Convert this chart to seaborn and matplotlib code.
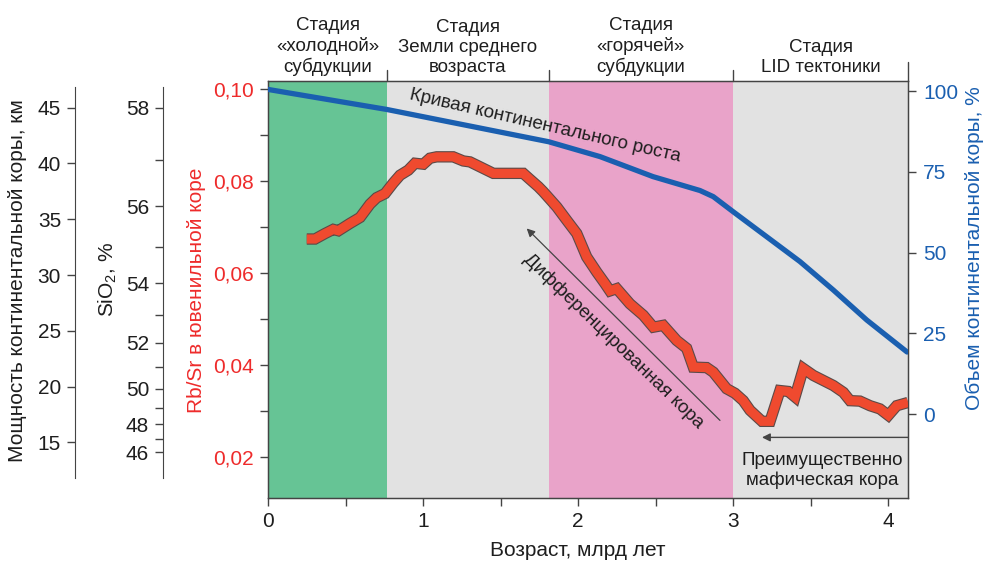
import numpy as np
import pandas as pd
import matplotlib
matplotlib.use("Agg")
import matplotlib.pyplot as plt
import matplotlib.patheffects as pe
from matplotlib.ticker import FixedLocator, FuncFormatter
import seaborn as sns

# ---------------- data ----------------
# Rb/Sr of juvenile crust vs age (Ga)
age_rbsr = [0.250, 0.303, 0.368, 0.421, 0.454, 0.529, 0.594, 0.658, 0.701, 0.755,
            0.808, 0.852, 0.905, 0.948, 1.002, 1.045, 1.088, 1.195, 1.260, 1.303,
            1.454, 1.647, 1.690, 1.744, 1.776, 1.863, 1.927, 1.992, 2.056, 2.121,
            2.174, 2.206, 2.250, 2.335, 2.421, 2.486, 2.550, 2.637, 2.701, 2.744,
            2.830, 2.873, 2.959, 3.013, 3.066, 3.110, 3.187, 3.239, 3.303, 3.357,
            3.400, 3.454, 3.518, 3.647, 3.712, 3.755, 3.819, 3.884, 3.948, 4.002,
            4.056, 4.129]
rbsr = [0.0674, 0.0674, 0.0686, 0.0695, 0.0692, 0.0708, 0.0721, 0.0750, 0.0764, 0.0773,
        0.0796, 0.0813, 0.0824, 0.0839, 0.0837, 0.0850, 0.0853, 0.0853, 0.0844, 0.0842,
        0.0817, 0.0817, 0.0804, 0.0788, 0.0777, 0.0744, 0.0715, 0.0686, 0.0635, 0.0602,
        0.0577, 0.0561, 0.0566, 0.0533, 0.0508, 0.0482, 0.0486, 0.0453, 0.0436, 0.0395,
        0.0394, 0.0384, 0.0348, 0.0338, 0.0322, 0.0301, 0.0277, 0.0277, 0.0344, 0.0342,
        0.0330, 0.0392, 0.0377, 0.0355, 0.0340, 0.0322, 0.0321, 0.0311, 0.0304, 0.0290,
        0.0311, 0.0318]

# continental growth curve, % of present-day volume
age_growth = [0.0, 0.766, 1.811, 2.142, 2.484, 2.787, 2.873, 3.002, 3.217, 3.432,
              3.647, 3.863, 4.123]
growth = [100.5, 94.3, 84.3, 79.7, 73.5, 69.2, 67.3, 62.6, 54.9, 47.2,
          38.4, 29.1, 19.2]

# tectonic stages
stage_edges = [0.0, 0.77, 1.81, 3.0, 4.13]
stage_colors = ["#66c495", "#e2e2e2", "#e9a3c9", "#e2e2e2"]
stage_names = ["Стадия\n«холодной»\nсубдукции",
               "Стадия\nЗемли среднего\nвозраста",
               "Стадия\n«горячей»\nсубдукции",
               "Стадия\nLID тектоники"]

x_major = [0, 1, 2, 3, 4]
x_minor = [0.5, 1.5, 2.5, 3.5]
rb_major = [0.02, 0.04, 0.06, 0.08, 0.10]
rb_minor = [0.03, 0.05, 0.07, 0.09]
growth_ticks = [0, 25, 50, 75, 100]
sio2_major = [46, 48, 50, 52, 54, 56, 58]
sio2_minor = [47, 49, 51, 53, 55, 57]
thick_ticks = [15, 20, 25, 30, 35, 40, 45]

# calibration of the auxiliary scales against Rb/Sr
sio2_ref = (58.0, 46.0)
sio2_rb_ref = (0.09599, 0.02096)
thick_ref = (45.0, 15.0)
thick_rb_ref = (0.09599, 0.02314)

# ---------------- style ----------------
sns.set_style("ticks")
plt.rcParams["font.family"] = ["Liberation Sans", "DejaVu Sans"]
RED = "#ee2b2b"
BLUE = "#1a5fb0"
LINE_RED = "#ef4a2f"
INK = "#1e1e1e"
SPINE = "#444444"
FS_TICK = 15
FS_LAB = 15
FS_TXT = 13.5

W, H = 989, 564
fig = plt.figure(figsize=(W / 100, H / 100), dpi=100)
ax_l, ax_r, ax_t, ax_b = 268, 908, 80.7, 498
ax = fig.add_axes([ax_l / W, 1 - ax_b / H, (ax_r - ax_l) / W, (ax_b - ax_t) / H])

ax.set_xlim(0, 4.129)
ax.set_ylim(0.0110, 0.10188)

# stage bands
for i, col in enumerate(stage_colors):
    ax.axvspan(stage_edges[i], stage_edges[i + 1], color=col, lw=0, zorder=0)

# Rb/Sr curve
df_rb = pd.DataFrame({"age": age_rbsr, "rbsr": rbsr})
sns.lineplot(data=df_rb, x="age", y="rbsr", ax=ax, color=LINE_RED, lw=6.6,
             solid_joinstyle="miter", solid_capstyle="butt", zorder=3,
             path_effects=[pe.Stroke(linewidth=8.2, foreground="#5b4a48"), pe.Normal()])

# axes styling
for s in ["left", "bottom", "top", "right"]:
    ax.spines[s].set_color(SPINE)
    ax.spines[s].set_linewidth(1.0)
ax.xaxis.set_major_locator(FixedLocator(x_major))
ax.xaxis.set_minor_locator(FixedLocator(x_minor))
ax.yaxis.set_major_locator(FixedLocator(rb_major))
ax.yaxis.set_minor_locator(FixedLocator(rb_minor))
ax.yaxis.set_major_formatter(FuncFormatter(lambda v, p: f"{v:.2f}".replace(".", ",")))
ax.tick_params(axis="both", which="both", direction="out", length=6, width=1,
               color=SPINE)
ax.tick_params(axis="x", labelsize=FS_TICK, labelcolor=INK, pad=4)
ax.tick_params(axis="y", labelsize=FS_TICK, labelcolor=RED, pad=4)

ax.set_xlabel("Возраст, млрд лет", fontsize=FS_LAB, color=INK)
ax.xaxis.set_label_coords(578 / W, 1 - 551 / H, transform=fig.transFigure)
ax.xaxis.label.set_va("center")
ax.set_ylabel("Rb/Sr в ювенильной коре", fontsize=FS_LAB, color=RED)
ax.yaxis.set_label_coords(197 / W, 1 - 290 / H, transform=fig.transFigure)
ax.yaxis.label.set_va("center")

# continental growth on the right axis
axr = ax.twinx()
axr.set_ylim(-26.0, 103.2)
df_g = pd.DataFrame({"age": age_growth, "growth": growth})
sns.lineplot(data=df_g, x="age", y="growth", ax=axr, color=BLUE, lw=3.8, zorder=3)
axr.set_xlim(0, 4.129)
axr.yaxis.set_major_locator(FixedLocator(growth_ticks))
axr.tick_params(axis="y", direction="out", length=6, width=1, color=SPINE,
                labelsize=FS_TICK, labelcolor=BLUE, pad=5)
for s in ["left", "bottom", "top", "right"]:
    axr.spines[s].set_color(SPINE)
axr.set_ylabel("Объем континентальной коры, %", fontsize=FS_LAB, color=BLUE)
axr.yaxis.set_label_coords(975 / W, 1 - 248 / H, transform=fig.transFigure)
axr.yaxis.label.set_va("center")
axr.yaxis.label.set_rotation(90)
axr.set_xlabel("")


# SiO2 scale (logarithmic in Rb/Sr)
b_si = (sio2_ref[0] - sio2_ref[1]) / np.log(sio2_rb_ref[0] / sio2_rb_ref[1])
a_si = sio2_ref[0] - b_si * np.log(sio2_rb_ref[0])


def rb_to_sio2(r):
    return a_si + b_si * np.log(np.clip(r, 1e-6, None))


def sio2_to_rb(s):
    return np.exp((np.asarray(s) - a_si) / b_si)


# crustal thickness scale (linear in Rb/Sr)
b_th = (thick_ref[0] - thick_ref[1]) / (thick_rb_ref[0] - thick_rb_ref[1])
a_th = thick_ref[0] - b_th * thick_rb_ref[0]


def rb_to_thick(r):
    return a_th + b_th * np.asarray(r)


def thick_to_rb(t):
    return (np.asarray(t) - a_th) / b_th


rb_span = (0.01546, 0.1005)

sec_si = ax.secondary_yaxis((163 - ax_l) / (ax_r - ax_l), functions=(rb_to_sio2, sio2_to_rb))
sec_si.yaxis.set_major_locator(FixedLocator(sio2_major))
sec_si.yaxis.set_minor_locator(FixedLocator(sio2_minor))
sec_si.spines["left"].set_bounds(rb_to_sio2(rb_span[0]), rb_to_sio2(rb_span[1]))
sec_si.spines["left"].set_color(SPINE)
sec_si.tick_params(axis="y", which="both", direction="out", length=6, width=1,
                   color=SPINE, labelsize=FS_TICK, labelcolor=INK, pad=4)
sec_si.set_ylabel(r"$\mathregular{SiO_2}$, %", fontsize=FS_LAB, color=INK)
sec_si.yaxis.set_label_coords(108 / W, 1 - 279 / H, transform=fig.transFigure)
sec_si.yaxis.label.set_va("center")

sec_th = ax.secondary_yaxis((75 - ax_l) / (ax_r - ax_l), functions=(rb_to_thick, thick_to_rb))
sec_th.yaxis.set_major_locator(FixedLocator(thick_ticks))
sec_th.yaxis.set_minor_locator(FixedLocator([]))
sec_th.spines["left"].set_bounds(rb_to_thick(rb_span[0]), rb_to_thick(rb_span[1]))
sec_th.spines["left"].set_color(SPINE)
sec_th.tick_params(axis="y", which="both", direction="out", length=6, width=1,
                   color=SPINE, labelsize=FS_TICK, labelcolor=INK, pad=4)
sec_th.set_ylabel("Мощность континентальной коры, км", fontsize=FS_LAB, color=INK)
sec_th.yaxis.set_label_coords(18 / W, 1 - 281 / H, transform=fig.transFigure)
sec_th.yaxis.label.set_va("center")

# stage header
hdr = ax.get_xaxis_transform()
for i, name in enumerate(stage_names):
    xc = 0.5 * (stage_edges[i] + stage_edges[i + 1])
    ax.text(xc, 1.012, name, transform=hdr, ha="center", va="bottom",
            fontsize=FS_TXT, color=INK, linespacing=1.2)
for e in stage_edges[1:-1]:
    ax.plot([e, e], [1.0, 1.026], transform=hdr, color=SPINE, lw=1.0, clip_on=False)
ax.plot([stage_edges[-1]] * 2, [1.0, 1.045], transform=hdr, color=SPINE, lw=1.0,
        clip_on=False)

# annotations
ax.text(1.787, 0.0920, "Кривая континентального роста", fontsize=FS_TXT, color=INK,
        rotation=-13, ha="center", va="center", rotation_mode="anchor", zorder=4)
ax.annotate("", xy=(1.669, 0.0697), xytext=(2.916, 0.0279),
            arrowprops=dict(arrowstyle="-|>", color="#444444", lw=0.9,
                            mutation_scale=12, shrinkA=0, shrinkB=0), zorder=4)
ax.text(2.232, 0.0451, "Дифференцированная кора", fontsize=FS_TXT, color=INK,
        rotation=-44, ha="center", va="center", rotation_mode="anchor", zorder=4)
ax.annotate("", xy=(3.187, 0.0242), xytext=(4.129, 0.0242),
            arrowprops=dict(arrowstyle="-|>", color="#444444", lw=1.0,
                            mutation_scale=12, shrinkA=0, shrinkB=0), zorder=4)
ax.text(3.574, 0.0170, "Преимущественно\nмафическая кора", fontsize=FS_TXT,
        color=INK, ha="center", va="center", linespacing=1.25, zorder=4)

fig.savefig("out.png", dpi=100)
